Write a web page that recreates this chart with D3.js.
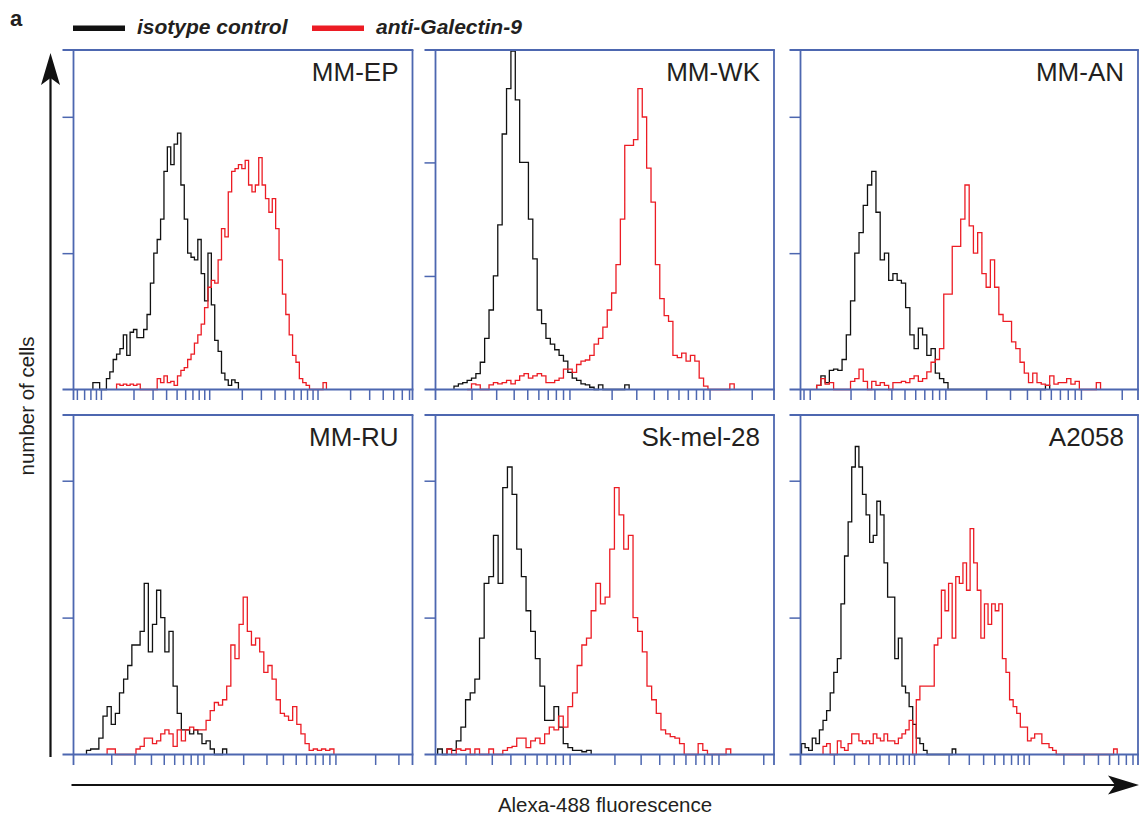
<!DOCTYPE html>
<html>
<head>
<meta charset="utf-8">
<script src="https://cdn.jsdelivr.net/npm/d3@7"></script>
<style>
  html, body { margin: 0; padding: 0; background: #fff; }
  svg { display: block; font-family: "Liberation Sans", Arial, sans-serif; }
</style>
</head>
<body>
<script>
// panel titles, in reading order
const panelNames = ['MM-EP', 'MM-WK', 'MM-AN', 'MM-RU', 'Sk-mel-28', 'A2058'];

// visible x range of each panel, as log10 exponents
const xExtents = [
  [0.446, 3.576], [0.743, 3.159], [0.631, 3.120],
  [0.714, 3.283], [0.798, 3.072], [0.710, 3.650],
];
const yMaxes = [249, 299, 249, 248, 248, 248];
const yTicks = [100, 200];
const tickMantissas = [1, 1.5, 2, 2.5, 3, 3.5, 4, 4.5, 5];
const binsPerDecade = 32;

// histogram counts, one bin = 1/32 decade, start given in bins
const isotypeStart = [20, 28, 24, 26, 26, 23];
const isotypeCounts = [
  [5,5,0,0,8,13,22,26,30,40,25,42,44,38,38,44,55,78,100,110,125,160,178,165,180,188,150,125,100,97,95,110,85,65,100,62,36,28,12,7,3,7,5],
  [3,5,6,8,10,14,24,45,70,100,145,225,265,298,255,200,200,150,115,70,58,45,40,35,30,25,15,10,8,5,4,2,0,4,0,0,0,0,0,4],
  [3,10,5,14,15,14,22,40,65,100,115,135,150,160,130,95,100,80,85,80,78,60,40,30,45,40,25,30,12,8,5,0,0,0,0,0,0,0,0,0,0,0,0,0,0,0,0,0,0,0,0,0,0,0,3],
  [3,4,4,12,28,35,22,30,45,55,65,80,80,90,125,75,95,120,100,75,90,50,30,18,18,15,18,15,8,10,4,0,0,4],
  [4,0,4,3,10,20,40,45,55,85,125,130,160,125,195,210,190,150,130,105,90,70,50,25,25,35,20,8,5,3,3,2,3],
  [8,5,3,12,8,18,25,32,45,60,70,110,145,170,210,225,210,190,175,155,160,185,175,140,115,115,70,85,50,45,35,22,12,8,3,0,0,0,0,0,0,0,4],
];
const galectinStart = [27, 31, 24, 31, 28, 29];
const galectinCounts = [
  [4,3,4,3,4,3,4,0,0,0,0,0,8,5,10,5,6,3,10,14,16,22,26,34,40,48,60,75,80,78,95,118,112,145,160,162,165,162,168,150,145,150,170,150,140,130,140,118,95,70,55,40,25,20,8,5,3,0,0,0,0,5],
  [0,5,4,0,0,4,6,5,6,8,5,8,12,14,10,12,14,12,6,6,8,10,18,18,15,22,25,26,30,40,45,55,70,85,110,150,215,215,220,265,240,195,165,110,80,65,60,30,28,32,25,30,25,10,3,0,0,0,0,0,5],
  [3,8,4,5,0,0,0,0,6,8,15,6,0,6,3,5,3,0,5,5,6,5,8,10,6,8,13,20,22,30,70,70,105,105,125,150,120,100,115,85,75,95,75,55,50,50,35,30,20,12,5,12,5,4,3,10,4,5,5,8,4,6,0,0,0,0,5],
  [4,4,0,0,0,0,0,4,6,12,12,8,10,15,18,15,6,18,10,18,20,18,18,18,25,32,38,36,40,50,80,70,95,115,90,80,85,75,60,65,55,40,30,28,25,35,22,15,8,3,4,3,4,3,4],
  [4,0,4,3,4,0,4,0,0,4,0,0,3,5,6,12,12,5,10,12,8,15,20,18,28,20,35,45,65,80,85,105,125,110,115,150,195,175,150,160,100,90,75,50,40,30,18,15,13,12,8,0,0,0,8,3,0,0,0,0,4],
  [6,8,0,0,10,5,3,8,15,15,10,8,10,8,15,12,10,15,10,10,8,12,15,18,25,0,40,50,50,50,50,80,85,120,105,125,85,130,125,140,120,165,140,120,85,110,95,110,105,110,70,60,40,35,30,20,20,10,12,15,15,8,8,5,3,0,0,0,0,0,0,0,0,0,0,0,0,0,0,0,0,4],
];

const legendLabels = ['isotype control', 'anti-Galectin-9'];

const W = 1140, H = 818;
const colLeft = [73.5, 435.5, 800.5];
const colRight = [412.5, 774, 1138];
const rowTop = [50, 415];
const rowBottom = [389.5, 754.5];
const frameColor = '#4d67b0';
const black = '#111111';
const red = '#ec1c24';
const textColor = '#231f20';

const svg = d3.select('body').append('svg')
  .attr('width', W)
  .attr('height', H);

function logTicks(lo, hi) {
  const ticks = [];
  for (let n = Math.floor(lo); n <= Math.ceil(hi); n++) {
    tickMantissas.forEach(m => {
      const v = m * Math.pow(10, n);
      const lv = Math.log10(v);
      if (lv > lo + 0.005 && lv < hi - 0.005) ticks.push(v);
    });
  }
  return ticks;
}

function histPoints(start, counts) {
  const pts = [[start / binsPerDecade, 0]];
  counts.forEach((c, k) => pts.push([(start + k) / binsPerDecade, c]));
  pts.push([(start + counts.length) / binsPerDecade, 0]);
  return pts;
}

panelNames.forEach((name, i) => {
  const col = i % 3, row = Math.floor(i / 3);
  const x0 = colLeft[col], x1 = colRight[col];
  const y0 = rowTop[row], y1 = rowBottom[row];

  const x = d3.scaleLog()
    .domain([Math.pow(10, xExtents[i][0]), Math.pow(10, xExtents[i][1])])
    .range([x0, x1]);
  const y = d3.scaleLinear()
    .domain([0, yMaxes[i]])
    .range([y1, y0]);

  const g = svg.append('g').attr('class', 'panel');

  const line = d3.line()
    .x(d => x(Math.pow(10, d[0])))
    .y(d => y(d[1]))
    .curve(d3.curveStepAfter);

  g.append('path')
    .attr('d', line(histPoints(isotypeStart[i], isotypeCounts[i])))
    .attr('fill', 'none')
    .attr('stroke', black)
    .attr('stroke-width', 1.3);

  g.append('path')
    .attr('d', line(histPoints(galectinStart[i], galectinCounts[i])))
    .attr('fill', 'none')
    .attr('stroke', red)
    .attr('stroke-width', 1.3);

  // x ticks
  const xAxis = g.append('g')
    .attr('transform', `translate(0,${y1})`)
    .call(d3.axisBottom(x)
      .tickValues(logTicks(xExtents[i][0], xExtents[i][1]))
      .tickSize(10.5)
      .tickSizeOuter(0)
      .tickFormat(''));
  xAxis.select('.domain').remove();
  xAxis.selectAll('line').attr('stroke', frameColor).attr('stroke-width', 1.5);

  // y ticks
  const yAxis = g.append('g')
    .attr('transform', `translate(${x0},0)`)
    .call(d3.axisLeft(y)
      .tickValues(yTicks)
      .tickSize(11)
      .tickSizeOuter(0)
      .tickFormat(''));
  yAxis.select('.domain').remove();
  yAxis.selectAll('line').attr('stroke', frameColor).attr('stroke-width', 1.5);

  // frame, with the little outer stubs
  const frame = g.append('g')
    .attr('stroke', frameColor)
    .attr('stroke-width', 1.8)
    .attr('fill', 'none');
  frame.append('line').attr('x1', x0 - 11).attr('x2', x1 + 0.9).attr('y1', y0).attr('y2', y0);
  frame.append('line').attr('x1', x0 - 11).attr('x2', x1 + 0.9).attr('y1', y1).attr('y2', y1);
  frame.append('line').attr('x1', x0).attr('x2', x0).attr('y1', y0).attr('y2', y1 + 10.5);
  frame.append('line').attr('x1', x1).attr('x2', x1).attr('y1', y0).attr('y2', y1 + 10.5);

  g.append('text')
    .attr('x', x1 - 14)
    .attr('y', y0 + 31)
    .attr('text-anchor', 'end')
    .attr('font-size', 26)
    .attr('fill', textColor)
    .text(name);
});

// legend
svg.append('text')
  .attr('x', 10).attr('y', 26)
  .attr('font-size', 22).attr('font-weight', 'bold')
  .attr('fill', textColor)
  .text('a');

const legendX = [73, 312];
[black, red].forEach((c, j) => {
  svg.append('rect')
    .attr('x', legendX[j]).attr('y', 25.5)
    .attr('width', 52).attr('height', 5.5)
    .attr('fill', c);
  svg.append('text')
    .attr('x', legendX[j] + 64).attr('y', 33.5)
    .attr('font-size', 21).attr('font-weight', 'bold').attr('font-style', 'italic')
    .attr('fill', textColor)
    .text(legendLabels[j]);
});

// big axis arrows
svg.append('line')
  .attr('x1', 50.5).attr('x2', 50.5).attr('y1', 757).attr('y2', 75)
  .attr('stroke', black).attr('stroke-width', 2.2);
svg.append('path')
  .attr('d', 'M50.5,53 L41,85 L50.5,78 L60,85 Z')
  .attr('fill', black);

svg.append('line')
  .attr('x1', 71.5).attr('x2', 1118).attr('y1', 785).attr('y2', 785)
  .attr('stroke', black).attr('stroke-width', 2.2);
svg.append('path')
  .attr('d', 'M1139,785 L1108,775.5 L1115,785 L1108,794.5 Z')
  .attr('fill', black);

svg.append('text')
  .attr('transform', 'translate(34,406) rotate(-90)')
  .attr('text-anchor', 'middle')
  .attr('font-size', 20.5)
  .attr('fill', textColor)
  .text('number of cells');

svg.append('text')
  .attr('x', 605).attr('y', 812)
  .attr('text-anchor', 'middle')
  .attr('font-size', 20.5)
  .attr('fill', textColor)
  .text('Alexa-488 fluorescence');
</script>
</body>
</html>
